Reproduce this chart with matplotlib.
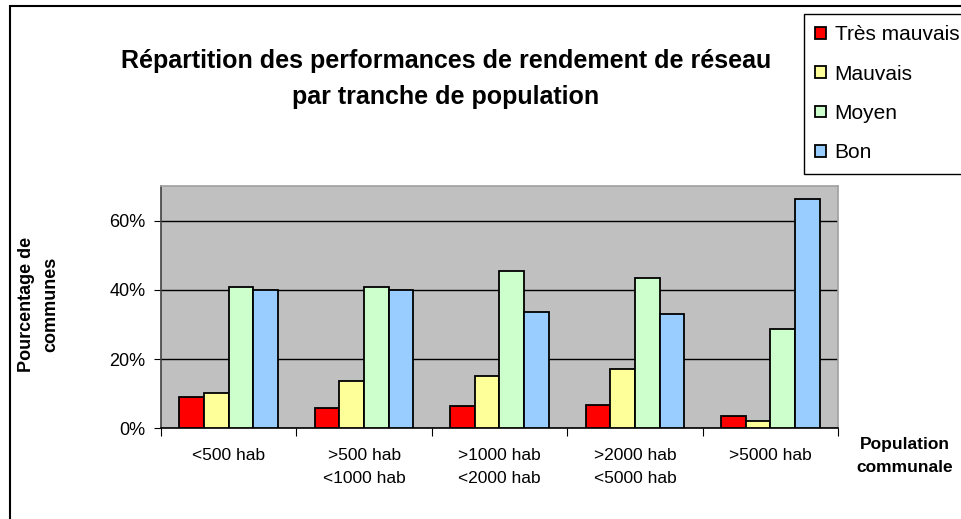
import matplotlib
matplotlib.use("Agg")
import matplotlib.pyplot as plt
from matplotlib.patches import Rectangle
import numpy as np

plt.rcParams['font.family'] = ['Liberation Sans', 'DejaVu Sans']

categories = ["<500 hab", ">500 hab\n<1000 hab", ">1000 hab\n<2000 hab",
              ">2000 hab\n<5000 hab", ">5000 hab"]
series_names = ["Très mauvais", "Mauvais", "Moyen", "Bon"]
tres_mauvais = [8.9, 5.9, 6.4, 6.8, 3.5]
mauvais = [10.3, 13.7, 15.1, 17.1, 2.0]
moyen = [40.9, 40.9, 45.3, 43.4, 28.8]
bon = [40.0, 40.0, 33.6, 33.1, 66.3]
colors = ["#FF0000", "#FFFF99", "#CCFFCC", "#99CCFF"]
yticks = [0, 20, 40, 60]
ytick_labels = ["0%", "20%", "40%", "60%"]

W, H = 962, 519
fig = plt.figure(figsize=(W / 100, H / 100), dpi=100)
fig.patch.set_facecolor("white")

ax = fig.add_axes([161 / W, 1 - 428.3 / H, (838 - 161) / W, (428.3 - 186) / H])
ax.set_facecolor("#C0C0C0")

x = np.arange(len(categories))
bw = 0.182
data = [tres_mauvais, mauvais, moyen, bon]
handles = []
for i, (vals, c, name) in enumerate(zip(data, colors, series_names)):
    b = ax.bar(x + (i - 1.5) * bw, vals, width=bw, color=c, edgecolor="black",
               linewidth=1.3, label=name, zorder=3)
    handles.append(b)

ax.set_xlim(-0.5, len(categories) - 0.5)
ax.set_ylim(0, 70)
ax.set_yticks(yticks)
ax.set_yticklabels(ytick_labels, fontsize=13)
ax.yaxis.grid(True, color="black", linewidth=1.0, zorder=1)
ax.set_axisbelow(True)

ax.set_xticks(np.arange(len(categories) + 1) - 0.5)
ax.set_xticklabels([])
ax.set_xticks(x, minor=True)
ax.set_xticklabels(categories, minor=True, fontsize=12.5, linespacing=1.65)
ax.tick_params(axis="x", which="major", length=6, direction="out", color="black")
ax.tick_params(axis="x", which="minor", length=0, pad=14)
ax.tick_params(axis="y", length=5, direction="out", color="black", pad=6)

ax.spines["left"].set_color("#404040")
ax.spines["bottom"].set_color("black")
ax.spines["top"].set_color("#A0A0A0")
ax.spines["right"].set_color("#A0A0A0")
for s in ax.spines.values():
    s.set_linewidth(1.2)

fig.text(446 / W, 1 - 79 / H,
         "Répartition des performances de rendement de réseau\npar tranche de population",
         ha="center", va="center", fontsize=18, fontweight="bold", linespacing=1.68)

fig.text(38.5 / W, 1 - 304 / H, "Pourcentage de\ncommunes", rotation=90,
         ha="center", va="center", fontsize=13, fontweight="bold", linespacing=1.55)

fig.text(905 / W, 1 - 456 / H, "Population\ncommunale", ha="center", va="center",
         fontsize=12.5, fontweight="bold", linespacing=1.6)

leg = fig.legend(handles=handles, labels=series_names, loc="upper left",
                 bbox_to_anchor=(804 / W, 1 - 14 / H), fontsize=15,
                 frameon=True, fancybox=False, edgecolor="black", framealpha=1,
                 handlelength=0.5, handleheight=0.5, handletextpad=0.42,
                 labelspacing=0.97, borderpad=0.55, borderaxespad=0)
leg.get_frame().set_linewidth(1.0)

fig.patches.append(Rectangle((10 / W, -0.2), 2.0, (H - 6) / H + 0.2,
                             transform=fig.transFigure, fill=False,
                             edgecolor="black", linewidth=1.5))

fig.savefig("out.png", dpi=100)
